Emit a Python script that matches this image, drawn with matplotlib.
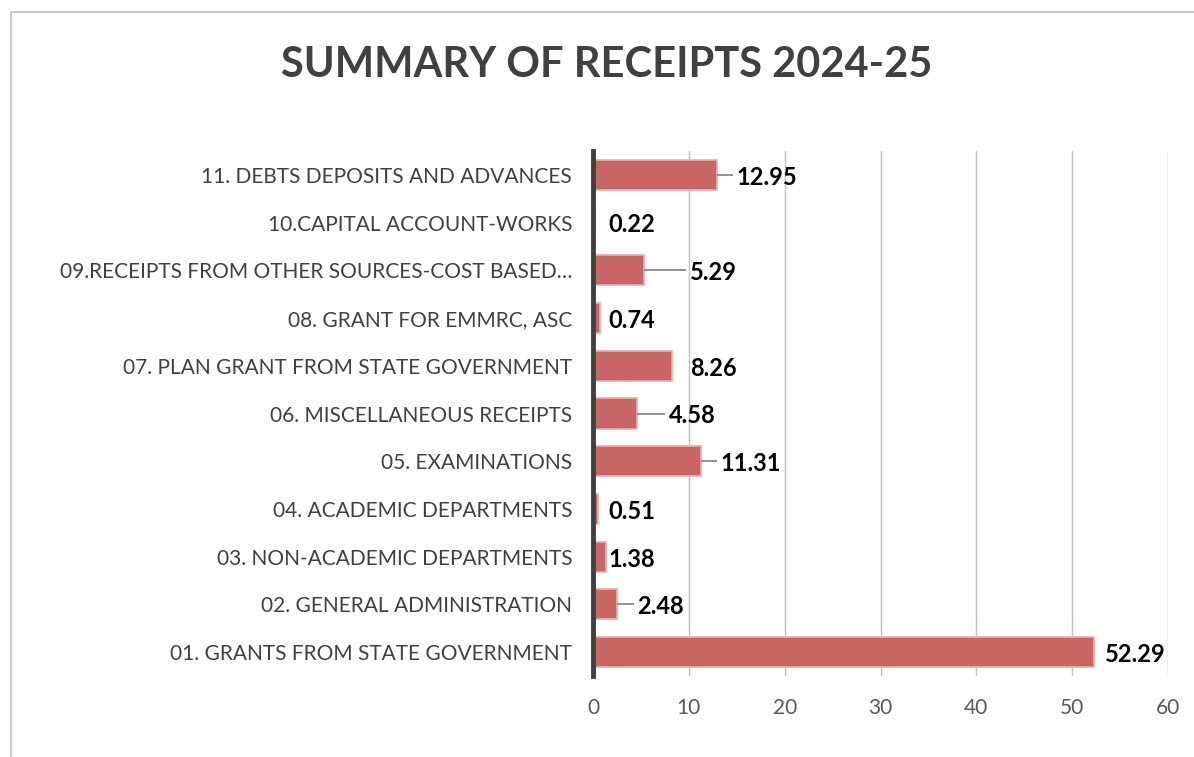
import matplotlib
matplotlib.use("Agg")
import matplotlib.pyplot as plt
from matplotlib.patches import Rectangle

plt.rcParams['font.family'] = ['Lato', 'DejaVu Sans']

categories = [
    "01. GRANTS FROM STATE GOVERNMENT",
    "02. GENERAL ADMINISTRATION",
    "03. NON-ACADEMIC DEPARTMENTS",
    "04. ACADEMIC DEPARTMENTS",
    "05. EXAMINATIONS",
    "06. MISCELLANEOUS RECEIPTS",
    "07. PLAN GRANT FROM STATE GOVERNMENT",
    "08. GRANT FOR EMMRC, ASC",
    "09.RECEIPTS FROM OTHER SOURCES-COST BASED\u2026",
    "10.CAPITAL ACCOUNT-WORKS",
    "11. DEBTS DEPOSITS AND ADVANCES",
]
values = [52.29, 2.48, 1.38, 0.51, 11.31, 4.58, 8.26, 0.74, 5.29, 0.22, 12.95]
# label left-edge positions (styling) and whether a leader line is shown
label_x = [53.4, 4.6, 1.6, 1.6, 13.3, 7.9, 10.1, 1.6, 10.1, 1.6, 15.0]
leader = [False, True, False, False, True, True, False, False, True, False, True]
xticks = [0, 10, 20, 30, 40, 50, 60]

fig = plt.figure(figsize=(11.94, 7.57), dpi=100)
fig.patches.append(Rectangle((11/1194, -0.1), 1.2, 1.1 - 12/757, transform=fig.transFigure,
                             fill=False, edgecolor='#bfbfbf', linewidth=1.2))
ax = fig.add_axes([593/1194, 1 - 676/757, (1168 - 593)/1194, (676 - 151)/757])

y = list(range(len(categories)))
ax.barh(y, values, height=0.63, color='#C86663', edgecolor='#EBAEAC', linewidth=1.2, zorder=3)

for yi, v, lx, ld in zip(y, values, label_x, leader):
    ax.text(lx, yi - 0.05, f"{v:.2f}", va='center', ha='left', fontsize=17, fontweight='bold',
            color='black', zorder=5)
    if ld:
        ax.plot([v, lx - 0.35], [yi, yi], color='#7f7f7f', linewidth=1.2, zorder=4,
                solid_capstyle='butt')

ax.set_xlim(0, 60)
ax.set_ylim(-0.5, len(categories) - 0.5)
ax.set_yticks(y)
ax.set_yticklabels(categories, fontsize=15, color='#404040')
ax.set_xticks(xticks)
ax.set_xticklabels([str(t) for t in xticks], fontsize=15, color='#595959')
ax.tick_params(axis='both', length=0)
ax.tick_params(axis='y', pad=15)
ax.tick_params(axis='x', pad=16)
ax.grid(axis='x', color='#bfbfbf', linewidth=1, zorder=0)
ax.grid(axis='y', visible=False)
for s in ['top', 'right', 'bottom']:
    ax.spines[s].set_visible(False)
ax.spines['left'].set_color('#404040')
ax.spines['left'].set_linewidth(3.5)
ax.spines['left'].set_zorder(6)

fig.text(607/1194, 1 - 65/757, "SUMMARY OF RECEIPTS 2024-25", ha='center', va='center',
         fontsize=30, fontweight='bold', color='#404040')

fig.savefig("out.png", dpi=100)
